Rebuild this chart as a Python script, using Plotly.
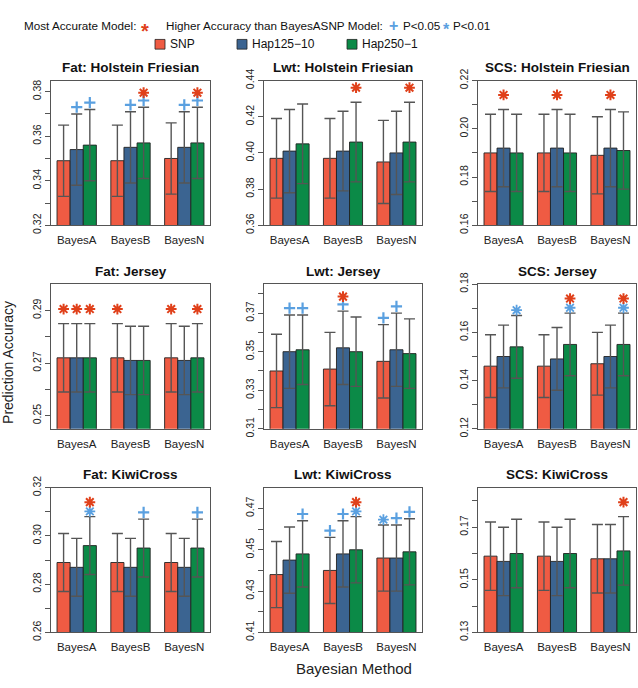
import plotly.graph_objects as go

W, H = 638, 688

methods = ["BayesA", "BayesB", "BayesN"]
models = ["SNP", "Hap125-10", "Hap250-1"]
model_labels = ["SNP", "Hap125\u221210", "Hap250\u22121"]
colors = ["#EF5B43", "#3B6491", "#0B8A47"]
best_color = "#E0401A"
sig_color = "#5AA0E0"

titles = ["Fat: Holstein Friesian", "Lwt: Holstein Friesian", "SCS: Holstein Friesian",
          "Fat: Jersey", "Lwt: Jersey", "SCS: Jersey",
          "Fat: KiwiCross", "Lwt: KiwiCross", "SCS: KiwiCross"]

# values per panel: rows = model (SNP, Hap125-10, Hap250-1), cols = method (A, B, N)
fat_hf = [[0.349, 0.349, 0.350], [0.354, 0.355, 0.355], [0.356, 0.357, 0.357]]
lwt_hf = [[0.397, 0.397, 0.395], [0.401, 0.401, 0.400], [0.405, 0.406, 0.406]]
scs_hf = [[0.190, 0.190, 0.189], [0.192, 0.192, 0.192], [0.190, 0.190, 0.191]]
fat_j = [[0.272, 0.272, 0.272], [0.272, 0.271, 0.271], [0.272, 0.271, 0.272]]
lwt_j = [[0.340, 0.341, 0.345], [0.350, 0.352, 0.351], [0.351, 0.350, 0.349]]
scs_j = [[0.146, 0.146, 0.147], [0.150, 0.149, 0.150], [0.154, 0.155, 0.155]]
fat_k = [[0.289, 0.289, 0.289], [0.287, 0.287, 0.287], [0.296, 0.295, 0.295]]
lwt_k = [[0.438, 0.440, 0.446], [0.445, 0.448, 0.446], [0.448, 0.450, 0.449]]
scs_k = [[0.159, 0.159, 0.158], [0.157, 0.157, 0.158], [0.160, 0.160, 0.161]]

# error half-widths
fat_hf_err = [[0.016, 0.016, 0.016], [0.016, 0.016, 0.016], [0.016, 0.016, 0.016]]
lwt_hf_err = [[0.022, 0.022, 0.023], [0.023, 0.022, 0.023], [0.022, 0.022, 0.022]]
scs_hf_err = [[0.016, 0.016, 0.016], [0.016, 0.016, 0.016], [0.016, 0.016, 0.016]]
fat_j_err = [[0.013, 0.013, 0.013], [0.013, 0.013, 0.013], [0.013, 0.013, 0.013]]
lwt_j_err = [[0.019, 0.019, 0.019], [0.019, 0.019, 0.019], [0.018, 0.018, 0.018]]
scs_j_err = [[0.013, 0.013, 0.013], [0.013, 0.013, 0.013], [0.013, 0.013, 0.013]]
fat_k_err = [[0.012, 0.012, 0.012], [0.012, 0.012, 0.012], [0.012, 0.012, 0.012]]
lwt_k_err = [[0.016, 0.016, 0.016], [0.016, 0.016, 0.016], [0.016, 0.016, 0.016]]
scs_k_err = [[0.013, 0.013, 0.013], [0.013, 0.013, 0.013], [0.013, 0.013, 0.013]]

# significance vs BayesA SNP: "+" P<0.05, "*" P<0.01
fat_hf_sig = [["", "", ""], ["+", "+", "+"], ["+", "+", "+"]]
lwt_hf_sig = [["", "", ""], ["", "", ""], ["", "", ""]]
scs_hf_sig = [["", "", ""], ["", "", ""], ["", "", ""]]
fat_j_sig = [["", "", ""], ["", "", ""], ["", "", ""]]
lwt_j_sig = [["", "", "+"], ["+", "+", "+"], ["+", "", ""]]
scs_j_sig = [["", "", ""], ["", "", ""], ["*", "*", "*"]]
fat_k_sig = [["", "", ""], ["", "", ""], ["*", "+", "+"]]
lwt_k_sig = [["", "+", "*"], ["", "+", "+"], ["+", "*", "+"]]
scs_k_sig = [["", "", ""], ["", "", ""], ["", "", ""]]

# most accurate model flags
fat_hf_best = [[0, 0, 0], [0, 0, 0], [0, 1, 1]]
lwt_hf_best = [[0, 0, 0], [0, 0, 0], [0, 1, 1]]
scs_hf_best = [[0, 0, 0], [1, 1, 1], [0, 0, 0]]
fat_j_best = [[1, 1, 1], [1, 0, 0], [1, 0, 1]]
lwt_j_best = [[0, 0, 0], [0, 1, 0], [0, 0, 0]]
scs_j_best = [[0, 0, 0], [0, 0, 0], [0, 1, 1]]
fat_k_best = [[0, 0, 0], [0, 0, 0], [1, 0, 0]]
lwt_k_best = [[0, 0, 0], [0, 0, 0], [0, 1, 0]]
scs_k_best = [[0, 0, 0], [0, 0, 0], [0, 0, 1]]

# y ranges and ticks
y_ranges = [[0.32, 0.385], [0.36, 0.44], [0.16, 0.22],
            [0.245, 0.30], [0.31, 0.385], [0.12, 0.18],
            [0.26, 0.32], [0.41, 0.48], [0.13, 0.185]]
y_ticks = [[0.32, 0.33, 0.34, 0.35, 0.36, 0.37, 0.38],
           [0.36, 0.38, 0.40, 0.42, 0.44],
           [0.16, 0.17, 0.18, 0.19, 0.20, 0.21, 0.22],
           [0.25, 0.26, 0.27, 0.28, 0.29],
           [0.31, 0.32, 0.33, 0.34, 0.35, 0.36, 0.37, 0.38],
           [0.12, 0.13, 0.14, 0.15, 0.16, 0.17, 0.18],
           [0.26, 0.27, 0.28, 0.29, 0.30, 0.31, 0.32],
           [0.41, 0.42, 0.43, 0.44, 0.45, 0.46, 0.47],
           [0.13, 0.14, 0.15, 0.16, 0.17, 0.18]]
y_labels = [["0.32", "", "0.34", "", "0.36", "", "0.38"],
            ["0.36", "0.38", "0.40", "0.42", "0.44"],
            ["0.16", "", "0.18", "", "0.20", "", "0.22"],
            ["0.25", "", "0.27", "", "0.29"],
            ["0.31", "", "0.33", "", "0.35", "", "0.37", ""],
            ["0.12", "", "0.14", "", "0.16", "", "0.18"],
            ["0.26", "", "0.28", "", "0.30", "", "0.32"],
            ["0.41", "", "0.43", "", "0.45", "", "0.47"],
            ["0.13", "", "0.15", "", "0.17", ""]]

panels = [
    (fat_hf, fat_hf_err, fat_hf_sig, fat_hf_best),
    (lwt_hf, lwt_hf_err, lwt_hf_sig, lwt_hf_best),
    (scs_hf, scs_hf_err, scs_hf_sig, scs_hf_best),
    (fat_j, fat_j_err, fat_j_sig, fat_j_best),
    (lwt_j, lwt_j_err, lwt_j_sig, lwt_j_best),
    (scs_j, scs_j_err, scs_j_sig, scs_j_best),
    (fat_k, fat_k_err, fat_k_sig, fat_k_best),
    (lwt_k, lwt_k_err, lwt_k_sig, lwt_k_best),
    (scs_k, scs_k_err, scs_k_sig, scs_k_best),
]

# layout (pixels)
col_x = [(51, 210), (264, 422), (478, 636)]
row_y = [(70.7, 220), (280.7, 430), (490.7, 640)]
GROUP_STEP = 4.1
X_RANGE = [-0.96, 2 * GROUP_STEP + 2 + 0.96]

fig = go.Figure()
FONT = "Liberation Sans, Arial, sans-serif"


def px_x(v):
    return v / W


def px_y(v):
    return 1 - v / H


for p, (vals, errs, sig, best) in enumerate(panels):
    r, c = divmod(p, 3)
    ax = "" if p == 0 else str(p + 1)
    xa, ya = "x" + ax, "y" + ax
    x0, x1 = col_x[c]
    y0, y1 = row_y[r]
    plot_h = y1 - y0
    yr = y_ranges[p]
    per_px = (yr[1] - yr[0]) / plot_h
    for k in range(3):
        xs = [g * GROUP_STEP + k for g in range(3)]
        fig.add_trace(go.Bar(
            x=xs, y=vals[k], width=1, xaxis=xa, yaxis=ya,
            marker=dict(color=colors[k], line=dict(color="#222222", width=0.9)),
            error_y=dict(type="data", array=errs[k], color="#555555", thickness=1.4, width=5.5),
            showlegend=False, hoverinfo="skip"))
        for sym, off in (("+", 7), ("*", 5.5)):
            mx = [xs[g] for g in range(3) if sig[k][g] == sym]
            my = [vals[k][g] + errs[k][g] + off * per_px for g in range(3) if sig[k][g] == sym]
            if mx:
                fig.add_trace(go.Scatter(
                    x=mx, y=my, mode="markers", xaxis=xa, yaxis=ya, cliponaxis=False,
                    marker=dict(symbol="cross-thin-open" if sym == "+" else "asterisk-open",
                                size=8 if sym == "+" else 9, color=sig_color,
                                line=dict(color=sig_color, width=2.2 if sym == "+" else 1.8)),
                    showlegend=False, hoverinfo="skip"))
        bx = [xs[g] for g in range(3) if best[k][g]]
        by = [vals[k][g] + errs[k][g] + 15 * per_px for g in range(3) if best[k][g]]
        if bx:
            fig.add_trace(go.Scatter(
                x=bx, y=by, mode="markers", xaxis=xa, yaxis=ya, cliponaxis=False,
                marker=dict(symbol="asterisk-open", size=9, color=best_color,
                            line=dict(color=best_color, width=2)),
                showlegend=False, hoverinfo="skip"))

    fig.layout["xaxis" + ax] = dict(
        domain=[px_x(x0), px_x(x1)], anchor=ya, range=X_RANGE, showgrid=False, zeroline=False,
        tickvals=[g * GROUP_STEP + 1 for g in range(3)], ticktext=methods,
        ticks="outside", ticklen=4, tickcolor="rgba(0,0,0,0)",
        showline=True, mirror=True, linecolor="#555555", linewidth=1,
        tickfont=dict(size=11.5, color="#222222", family=FONT), fixedrange=True)
    fig.layout["yaxis" + ax] = dict(
        domain=[px_y(y1), px_y(y0)], anchor=xa, range=yr, showgrid=False, zeroline=False,
        tickvals=y_ticks[p], ticktext=y_labels[p], tickangle=-90,
        ticks="outside", ticklen=5, tickcolor="#555555",
        showline=True, mirror=True, linecolor="#555555", linewidth=1,
        tickfont=dict(size=10.5, color="#222222", family=FONT), fixedrange=True)
    fig.add_annotation(
        x=px_x((x0 + x1) / 2), y=px_y(y0 - 13.5), xref="paper", yref="paper",
        text="<b>" + titles[p] + "</b>", showarrow=False,
        font=dict(size=13.5, color="#111111", family=FONT), xanchor="center", yanchor="middle")

# legend line 1 (text pieces and coloured glyphs)
leg_texts = ["Most Accurate Model:", "Higher Accuracy than BayesASNP Model:", "P<0.05", "P<0.01"]
leg_text_x = [23, 165, 402, 452]
for t, xx in zip(leg_texts, leg_text_x):
    fig.add_annotation(x=px_x(xx), y=px_y(14), xref="paper", yref="paper", text=t,
                       showarrow=False, xanchor="left", yanchor="middle", borderpad=0,
                       font=dict(size=11.7, color="#111111", family=FONT))
leg_glyphs = [("<b>*</b>", 145, best_color, 20, -5), ("<b>+</b>", 393, sig_color, 16, 0),
              ("<b>*</b>", 446, sig_color, 16, -4)]
for g, xx, col, sz, ysh in leg_glyphs:
    fig.add_annotation(x=px_x(xx), y=px_y(14), xref="paper", yref="paper", text=g,
                       showarrow=False, xanchor="center", yanchor="middle", yshift=ysh,
                       borderpad=0, font=dict(size=sz, color=col, family=FONT))

# legend line 2 (swatches)
sw_x = [155, 237, 347]
for k in range(3):
    fig.add_shape(type="rect", xref="paper", yref="paper",
                  x0=px_x(sw_x[k]), x1=px_x(sw_x[k] + 10), y0=px_y(38.3), y1=px_y(28.3),
                  fillcolor=colors[k], line=dict(color="#222222", width=0.8))
    fig.add_annotation(x=px_x(sw_x[k] + 13), y=px_y(33.3), xref="paper", yref="paper",
                       text=model_labels[k], showarrow=False, xanchor="left", yanchor="middle",
                       font=dict(size=12, color="#111111", family=FONT))

# axis titles
fig.add_annotation(x=px_x(8), y=px_y(362), xref="paper", yref="paper", text="Prediction Accuracy",
                   showarrow=False, textangle=-90, xanchor="center", yanchor="middle",
                   font=dict(size=14, color="#222222", family=FONT))
fig.add_annotation(x=px_x(354), y=px_y(677), xref="paper", yref="paper", text="Bayesian Method",
                   showarrow=False, xanchor="center", yanchor="middle",
                   font=dict(size=15, color="#222222", family=FONT))

fig.update_layout(width=W, height=H, margin=dict(l=0, r=0, t=0, b=0),
                  plot_bgcolor="white", paper_bgcolor="white", barmode="overlay",
                  showlegend=False, font=dict(family=FONT))

fig.write_html("out.html", config={"displayModeBar": False},
               post_script="document.body.style.margin='0';document.body.style.overflow='hidden';")
